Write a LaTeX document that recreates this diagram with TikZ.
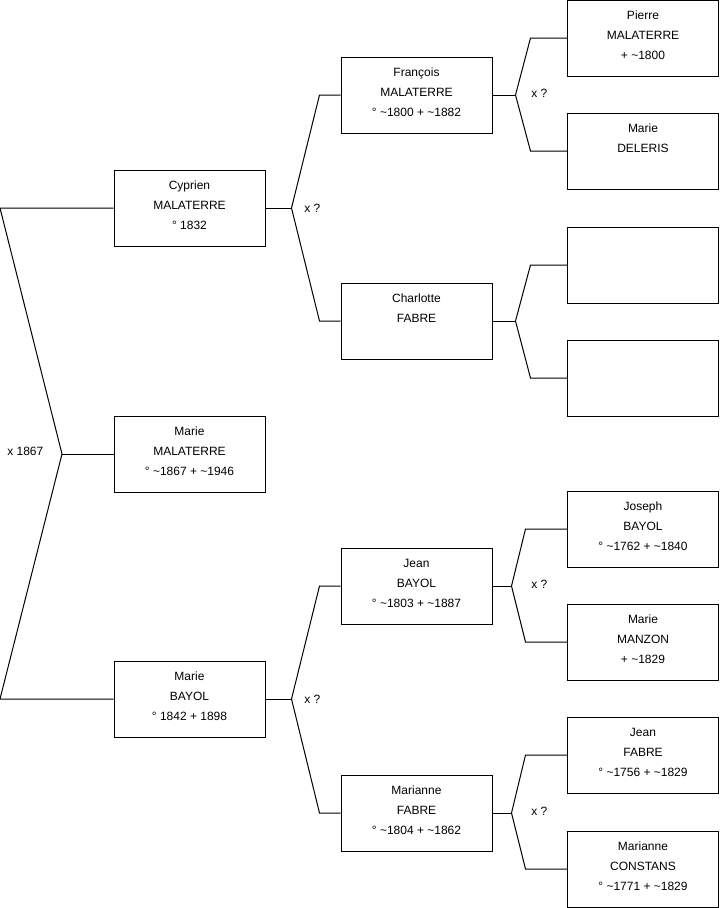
\documentclass[tikz,border=0pt]{standalone}
\usepackage{fontspec}
\setmainfont{Liberation Sans}
\usetikzlibrary{calc}
\tikzset{
    fiche/.style = {draw=black, line width=0.75pt, minimum width=113.25pt, minimum height=57pt,
                    inner sep=0pt, align=center, font=\fontsize{9}{15}\selectfont},
    lien/.style  = {black, line width=0.75pt},
    union/.style = {anchor=west, inner sep=0pt, font=\fontsize{9}{11}\selectfont},
}
\newcommand{\pers}[3]{#1\\#2\\\strut #3}

\begin{document}
\begin{tikzpicture}[x=0.75pt, y=-0.75pt]
        \useasboundingbox (0,0) rectangle (719,908);
        % enfant et parents
        \node[fiche] (mma) at (189.5,454) {\pers{Marie}{MALATERRE}{° \textasciitilde1867 + \textasciitilde1946}};
        \node[fiche] (cyp) at (189.5,208) {\pers{Cyprien}{MALATERRE}{° 1832}};
        \node[fiche] (mba) at (189.5,699) {\pers{Marie}{BAYOL}{° 1842 + 1898}};
        % grands-parents
        \node[fiche] (fra) at (416.5,95)  {\pers{François}{MALATERRE}{° \textasciitilde1800 + \textasciitilde1882}};
        \node[fiche] (cha) at (416.5,321) {\pers{Charlotte}{FABRE}{}};
        \node[fiche] (jea) at (416.5,586) {\pers{Jean}{BAYOL}{° \textasciitilde1803 + \textasciitilde1887}};
        \node[fiche] (mar) at (416.5,813) {\pers{Marianne}{FABRE}{° \textasciitilde1804 + \textasciitilde1862}};
        % arriere-grands-parents
        \node[fiche] (pie) at (643,38)  {\pers{Pierre}{MALATERRE}{+ \textasciitilde1800}};
        \node[fiche] (mde) at (643,151) {\pers{Marie}{DELERIS}{}};
        \node[fiche] (vi1) at (643,265) {};
        \node[fiche] (vi2) at (643,378) {};
        \node[fiche] (jos) at (643,529) {\pers{Joseph}{BAYOL}{° \textasciitilde1762 + \textasciitilde1840}};
        \node[fiche] (mmz) at (643,642) {\pers{Marie}{MANZON}{+ \textasciitilde1829}};
        \node[fiche] (jfa) at (643,755) {\pers{Jean}{FABRE}{° \textasciitilde1756 + \textasciitilde1829}};
        \node[fiche] (mco) at (643,869) {\pers{Marianne}{CONSTANS}{° \textasciitilde1771 + \textasciitilde1829}};
        % mariage des parents
        \coordinate (r0) at (62,454);
        \coordinate (rh) at (0,208);
        \coordinate (rb) at (0,699);
        \draw[lien] (mma.west) -- (r0);
        \draw[lien] (cyp.west) -- (rh) -- (r0) -- (rb) -- (mba.west);
        \node[union] (u0) at (7,451) {x 1867};
        % fourches vers les parents
        \foreach \enf/\pa/\ma/\fx/\bx in {cyp/fra/cha/26/54, mba/jea/mar/26/54,
                fra/pie/mde/23/38, cha/vi1/vi2/23/38, jea/jos/mmz/19/33, mar/jfa/mco/19/33}{
            \coordinate (fk) at ($(\enf.east)+(\fx,0)$);
            \coordinate (br) at ($(\enf.east)+(\bx,0)$);
            \draw[lien] (\enf.east) -- (fk);
            \draw[lien] (\pa.west) -- (br |- \pa.west) -- (fk) -- (br |- \ma.west) -- (\ma.west);
        }
        \node[union] (u1) at (304,208) {x ?};
        \node[union] (u2) at (304,699) {x ?};
        \node[union] (u3) at (531,93)  {x ?};
        \node[union] (u4) at (531,584) {x ?};
        \node[union] (u5) at (531,811) {x ?};
    \end{tikzpicture}
\end{document}
